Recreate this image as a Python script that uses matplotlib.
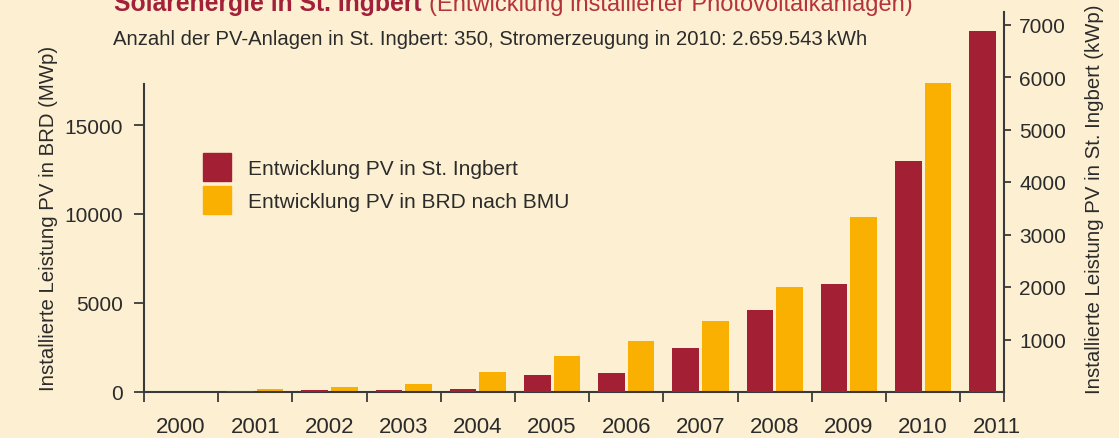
import numpy as np
import matplotlib
matplotlib.use("Agg")
import matplotlib.pyplot as plt
from matplotlib.patches import Rectangle

# data
years = ["2000", "2001", "2002", "2003", "2004", "2005", "2006", "2007", "2008", "2009", "2010", "2011"]
ingbert_kwp = [0, 10, 30, 45, 65, 330, 360, 840, 1560, 2060, 4400, 6880]
brd_mwp = [80, 185, 300, 435, 1100, 2000, 2850, 4000, 5900, 9850, 17350, np.nan]

bg = "#fdf0d2"
red = "#a21f34"
yellow = "#f9b000"
ink = "#2b2b2b"
axcol = "#3a3a3a"

plt.rcParams["font.family"] = ["Liberation Sans", "DejaVu Sans"]
fs = 15

fig = plt.figure(figsize=(11.19, 4.39), dpi=100, facecolor=bg)
ax = fig.add_axes([144 / 1119, 46 / 439, 860 / 1119, 380 / 439])
ax.set_facecolor(bg)
ax2 = ax.twinx()

x = np.arange(len(years))
ax2.bar(x + 0.30, ingbert_kwp, width=0.36, color=red)
ax.bar(x + 0.70, brd_mwp, width=0.36, color=yellow)

xmax = 860 / 74.2
ax.set_xlim(0, xmax)
ax.set_ylim(0, 380 / 17.8 * 1000)
ax2.set_ylim(0, 380 / 52.5 * 1000)

# x axis: ticks on category borders, labels in the middle
ax.set_xticks(list(x) + [xmax])
ax.set_xticklabels([])
ax.set_xticks(x + 0.5, minor=True)
ax.set_xticklabels(years, minor=True)
ax.tick_params(axis="x", which="major", direction="out", length=7.2, width=1.3, color=axcol)
ax.tick_params(axis="x", which="minor", length=0, labelsize=16, labelcolor=ink, pad=17)

ax.set_yticks([0, 5000, 10000, 15000])
ax.tick_params(axis="y", direction="out", length=7.2, width=1.3, color=axcol, labelsize=fs, labelcolor=ink, pad=8)
ax2.set_yticks([1000, 2000, 3000, 4000, 5000, 6000, 7000])
ax2.tick_params(axis="y", direction="out", length=5, width=1.3, color=axcol, labelsize=fs, labelcolor=ink, pad=6)

for a in (ax, ax2):
    for s in a.spines.values():
        s.set_color(axcol)
        s.set_linewidth(1.5)
    a.spines["top"].set_visible(False)
ax.spines["right"].set_visible(False)
ax2.spines["left"].set_visible(False)
ax2.spines["bottom"].set_visible(False)
ax.spines["left"].set_bounds(0, 17300)

ax.set_ylabel("Installierte Leistung PV in BRD (MWp)", fontsize=14.7, color=ink)
ax.yaxis.set_label_coords(-0.100, 0.46)
ax2.set_ylabel("Installierte Leistung PV in St. Ingbert (kWp)", fontsize=14.7, color=ink, rotation=90)
ax2.yaxis.set_label_coords(1.094, 0.51)

handles = [Rectangle((0, 0), 1, 1, color=red), Rectangle((0, 0), 1, 1, color=yellow)]
labels = ["Entwicklung PV in St. Ingbert", "Entwicklung PV in BRD nach BMU"]
leg = ax2.legend(handles, labels, loc="upper left", bbox_to_anchor=(203 / 1119, 1 - 154 / 439),
                 bbox_transform=fig.transFigure, frameon=False, fontsize=fs,
                 handlelength=1.35, handleheight=1.69, handletextpad=0.8,
                 labelspacing=0.25, borderpad=0, borderaxespad=0)
for t in leg.get_texts():
    t.set_color(ink)

fig.text(114 / 1119, 1 - 11 / 439, "Solarenergie in St. Ingbert", fontsize=17.8, fontweight="bold",
         color="#a3203a", va="baseline")
fig.text(429 / 1119, 1 - 11 / 439, "(Entwicklung installierter Photovoltaikanlagen)", fontsize=17,
         color="#b4333f", va="baseline")
fig.text(113 / 1119, 1 - 45 / 439, "Anzahl der PV-Anlagen in St. Ingbert: 350, Stromerzeugung in 2010: 2.659.543\u2009kWh",
         fontsize=14.6, color=ink, va="baseline")

fig.savefig("out.png", dpi=100, facecolor=bg)
